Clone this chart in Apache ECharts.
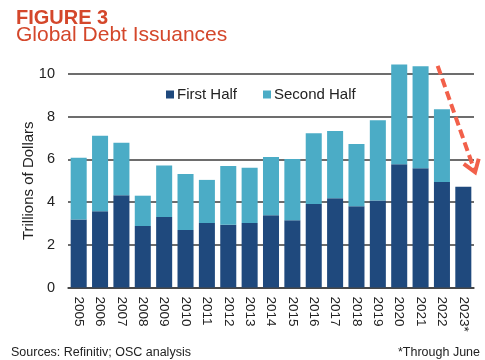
<!DOCTYPE html>
<html>
<head>
<meta charset="utf-8">
<script src="https://cdn.jsdelivr.net/npm/echarts@6/dist/echarts.min.js"></script>
<style>html,body{margin:0;padding:0;background:#fff}#c{width:485px;height:360px}</style>
</head>
<body>
<div id="c"></div>
<script>
const years = ['2005','2006','2007','2008','2009','2010','2011','2012','2013','2014','2015','2016','2017','2018','2019','2020','2021','2022','2023*'];
const firstHalf = [3.18,3.57,4.32,2.88,3.30,2.69,3.02,2.94,3.02,3.38,3.15,3.91,4.18,3.80,4.08,5.77,5.58,4.94,4.72];
const secondHalf = [2.90,3.54,2.46,1.42,2.41,2.63,2.02,2.75,2.59,2.73,2.87,3.31,3.15,2.92,3.75,4.68,4.78,3.41,null];
const yTicks = [0,2,4,6,8,10];

const FONT = '"Liberation Sans", Arial, Helvetica, sans-serif';
const RED = '#d4472b';
const chart = echarts.init(document.getElementById('c'));
chart.setOption({
  animation: false,
  textStyle: {fontFamily: FONT},
  title: [
    {text: 'FIGURE 3', left: 16, top: 8, padding: 0, textStyle: {fontFamily: FONT, fontSize: 20, fontWeight: 'bold', color: RED}},
    {text: 'Global Debt Issuances', left: 16, top: 25, padding: 0, textStyle: {fontFamily: FONT, fontSize: 21, fontWeight: 'normal', color: RED}},
    {text: 'Sources: Refinitiv; OSC analysis', left: 11, top: 346, padding: 0, textStyle: {fontFamily: FONT, fontSize: 12.5, fontWeight: 'normal', color: '#222'}},
    {text: '*Through June', right: 5, top: 346, padding: 0, textStyle: {fontFamily: FONT, fontSize: 12.5, fontWeight: 'normal', color: '#222'}}
  ],
  legend: {
    left: 166, top: 87, padding: 0, itemWidth: 8, itemHeight: 8, icon: 'rect', itemGap: 26,
    textStyle: {fontFamily: FONT, fontSize: 15, color: '#222', padding: [0,0,0,-2]},
    data: ['First Half', 'Second Half']
  },
  grid: {left: 68, right: 11, top: 74, bottom: 72.5},
  xAxis: {
    type: 'category', data: years,
    axisTick: {show: false},
    axisLine: {show: true, lineStyle: {color: '#3c3c3c', width: 1.5}},
    axisLabel: {rotate: -90, fontSize: 13.5, color: '#222', margin: 9, fontFamily: FONT, interval: 0}
  },
  yAxis: {
    type: 'value', min: yTicks[0], max: yTicks[yTicks.length-1], interval: 2,
    name: 'Trillions of Dollars', nameLocation: 'middle', nameGap: 32, nameMoveOverlap: false,
    nameTextStyle: {fontSize: 15, color: '#222', fontFamily: FONT},
    axisLine: {show: false}, axisTick: {show: false},
    axisLabel: {fontSize: 14.5, color: '#222', margin: 13, fontFamily: FONT},
    splitLine: {lineStyle: {color: '#3c3c3c', width: 1.5}}
  },
  series: [
    {name: 'First Half', type: 'bar', stack: 'a', data: firstHalf, clip: false, barCategoryGap: '25%', itemStyle: {color: '#1f497d'}},
    {name: 'Second Half', type: 'bar', stack: 'a', data: secondHalf, clip: false, itemStyle: {color: '#4bacc6'}}
  ]
});

// annotation arrow
const p0 = chart.convertToPixel({gridIndex: 0}, ['2022', 10.38]);
const pA = chart.convertToPixel({gridIndex: 0}, ['2021', 0]);
const band = p0[0] - pA[0];
const p1 = chart.convertToPixel({gridIndex: 0}, ['2023*', 5.4]);
const sx = p0[0] - 0.2 * band, sy = p0[1];
const ex = p1[0] + 0.55 * band, ey = p1[1];
const ang = Math.atan2(ey - sy, ex - sx);
const L = 14, spread = 0.6;
const ARROW = '#f2604a';
chart.setOption({
  graphic: [
    {type: 'line', silent: true, z: 100,
      shape: {x1: sx, y1: sy, x2: ex - Math.cos(ang) * 3, y2: ey - Math.sin(ang) * 3},
      style: {stroke: ARROW, lineWidth: 4, lineDash: [9, 4.5]}},
    {type: 'polyline', silent: true, z: 100,
      shape: {points: [
        [ex - L * Math.cos(ang - spread), ey - L * Math.sin(ang - spread)],
        [ex, ey],
        [ex - L * Math.cos(ang + spread), ey - L * Math.sin(ang + spread)]
      ]},
      style: {stroke: ARROW, lineWidth: 4, fill: null, lineJoin: 'miter'}}
  ]
});
</script>
</body>
</html>
